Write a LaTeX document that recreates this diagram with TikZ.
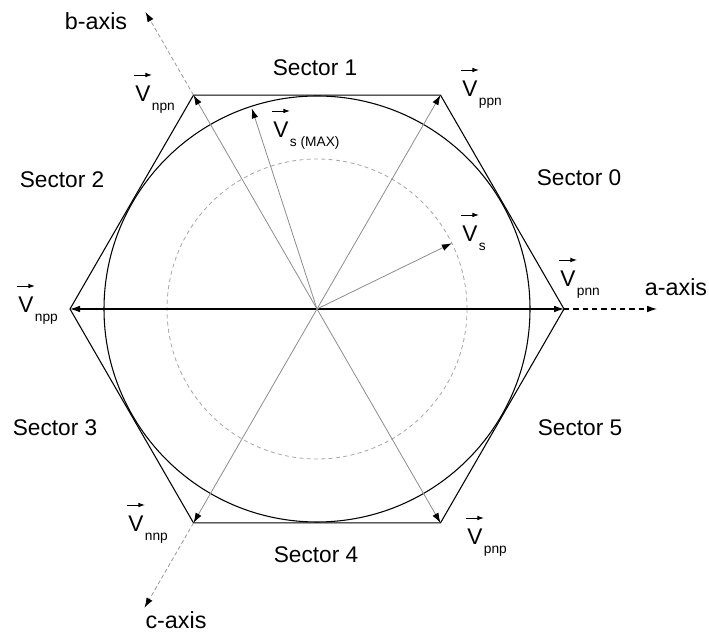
\documentclass[tikz,border=0pt]{standalone}
\usepackage{fontspec}
\setmainfont{Liberation Sans}
\usetikzlibrary{arrows.meta,calc}
\newcommand\vlab[4]{%
  \node[vletter] (#1) at (#2,#3) {V};
  \node[vsub] (#1s) at ($(#1.base east)+(1,-9)$) {#4};
  \coordinate (#1a) at ($(#1.base west)+(-1,27)$);
  \coordinate (#1b) at ($(#1a)+(18,0)$);
  \draw[varrow] (#1a) -- (#1b);
}
\begin{document}
\begin{tikzpicture}[x=0.75pt,y=0.75pt,
  tip/.style={-{Latex[length=7.5pt,width=5pt,color=black]}},
  hexline/.style={line width=0.8pt,black},
  vecline/.style={tip,line width=0.6pt,black!45},
  mainline/.style={{Latex[length=7.5pt,width=5pt]}-{Latex[length=7.5pt,width=5pt]},line width=0.8pt,black},
  axisline/.style={tip,line width=0.6pt,black!40,dash pattern=on 3pt off 2pt},
  aaxisline/.style={tip,line width=0.8pt,black,dash pattern=on 4pt off 3pt},
  dcircle/.style={line width=0.6pt,black!35,dash pattern=on 3pt off 2.5pt},
  lbl/.style={inner sep=0pt,font=\fontsize{17}{20}\selectfont},
  axlbl/.style={inner sep=0pt,font=\fontsize{17.5}{20}\selectfont},
  vletter/.style={inner sep=0pt,anchor=base west,font=\fontsize{17}{20}\selectfont},
  vsub/.style={inner sep=0pt,anchor=base west,font=\fontsize{10.3}{12}\selectfont},
  varrow/.style={-{Latex[length=5pt,width=3.5pt]},line width=0.7pt,black}]
\useasboundingbox (0,0) rectangle (709,634);
\coordinate (O) at (317,325);
\foreach \i/\a in {0/0,1/60,2/120,3/180,4/240,5/300}
  \coordinate (h\i) at ($(O)+(\a:247)$);
\coordinate (vs) at ($(O)+(26:150)$);
\coordinate (vsm) at ($(O)+(108:211)$);
\coordinate (ea) at ($(O)+(0:340)$);
\coordinate (eb) at ($(O)+(120:343)$);
\coordinate (ec) at ($(O)+(240:345)$);
% circles
\draw[dcircle] (O) circle[radius=150];
\draw[hexline] (O) circle[radius=213];
% hexagon
\draw[hexline] (h0) -- (h1) -- (h2) -- (h3) -- (h4) -- (h5) -- cycle;
% axes
\draw[aaxisline] (h0) -- (ea);
\draw[axisline] (h2) -- (eb);
\draw[axisline] (h4) -- (ec);
% vectors
\draw[mainline] (h3) -- (h0);
\draw[vecline] (O) -- (h1);
\draw[vecline] (O) -- (h2);
\draw[vecline] (O) -- (h4);
\draw[vecline] (O) -- (h5);
\draw[vecline] (O) -- (vs);
\draw[vecline] (O) -- (vsm);
% labels
\node[axlbl] (la) at (676,347) {a-axis};
\node[axlbl] (lb) at (96,613) {b-axis};
\node[axlbl] (lc) at (176,14) {c-axis};
\node[lbl] (s0) at (579,456) {Sector 0};
\node[lbl] (s1) at (315,566) {Sector 1};
\node[lbl] (s2) at (62,454) {Sector 2};
\node[lbl] (s3) at (55,206) {Sector 3};
\node[lbl] (s4) at (316,79) {Sector 4};
\node[lbl] (s5) at (580,206) {Sector 5};
\vlab{vnpn}{135}{532}{npn}
\vlab{vsmax}{273}{496}{s (MAX)}
\vlab{vppn}{462}{537}{ppn}
\vlab{vsl}{462}{392}{s}
\vlab{vpnn}{560}{347}{pnn}
\vlab{vnpp}{18}{321}{npp}
\vlab{vnnp}{128}{102}{nnp}
\vlab{vpnp}{467}{89}{pnp}
\end{tikzpicture}
\end{document}
